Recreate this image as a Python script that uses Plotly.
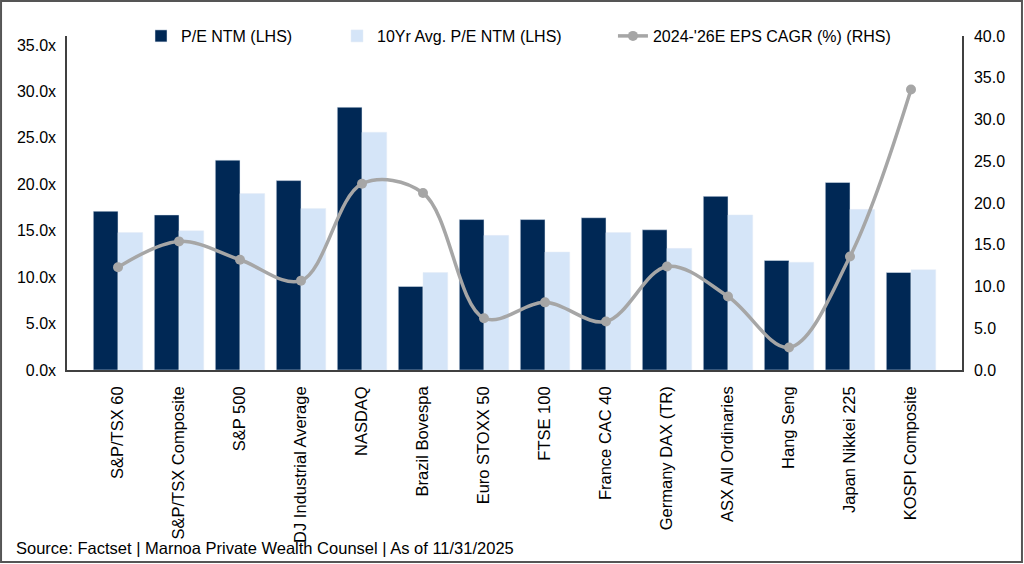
import plotly.graph_objects as go

indices = ['S&P/TSX 60', 'S&P/TSX Composite', 'S&P 500', 'DJ Industrial Average', 'NASDAQ',
           'Brazil Bovespa', 'Euro STOXX 50', 'FTSE 100', 'France CAC 40', 'Germany DAX (TR)',
           'ASX All Ordinaries', 'Hang Seng', 'Japan Nikkei 225', 'KOSPI Composite']
pe_ntm = [17.1, 16.7, 22.6, 20.4, 28.3, 9.0, 16.2, 16.2, 16.4, 15.1, 18.7, 11.8, 20.2, 10.5]
pe_10yr_avg = [14.8, 15.0, 19.0, 17.4, 25.6, 10.5, 14.5, 12.7, 14.8, 13.1, 16.7, 11.6, 17.3, 10.8]
eps_cagr = [12.3, 15.4, 13.2, 10.7, 22.3, 21.2, 6.2, 8.1, 5.8, 12.4, 8.8, 2.7, 13.6, 33.6]

left_ticks = [0, 5, 10, 15, 20, 25, 30, 35]
right_ticks = [0, 5, 10, 15, 20, 25, 30, 35, 40]

navy = '#002855'
light = '#D5E5F8'
grey = '#A6A6A6'
font = 'Liberation Sans, Arial, sans-serif'

fig = go.Figure()
fig.add_trace(go.Bar(x=indices, y=pe_ntm, name='P/E NTM (LHS)', marker_color=navy,
                     legend='legend'))
fig.add_trace(go.Bar(x=indices, y=pe_10yr_avg, name='10Yr Avg. P/E NTM (LHS)',
                     marker_color=light, legend='legend2'))
fig.add_trace(go.Scatter(
    x=indices, y=eps_cagr, name="2024-'26E EPS CAGR (%) (RHS)", yaxis='y2', legend='legend3',
    mode='lines+markers', line=dict(color=grey, width=3.5, shape='spline', smoothing=1.0),
    marker=dict(color=grey, size=10)
))

# one legend per entry so each can sit where the original has it
leg = dict(orientation='h', xanchor='left', y=1.0, yanchor='middle',
           font=dict(size=16), bgcolor='rgba(0,0,0,0)')

fig.update_layout(
    width=1024, height=564,
    margin=dict(l=67, r=62, t=36, b=194),
    plot_bgcolor='white', paper_bgcolor='white',
    font=dict(family=font, size=16, color='#000000'),
    barmode='group', bargap=0.19, bargroupgap=0,
    showlegend=True,
    legend=dict(leg, x=0.0827),
    legend2=dict(leg, x=0.3017),
    legend3=dict(leg, x=0.610),
    xaxis=dict(tickangle=-90, showline=True, linecolor='#404040', linewidth=1.5,
               showgrid=False, ticks='', tickfont=dict(size=16.5), ticklabelstandoff=8),
    yaxis=dict(range=[0, 35.97], tickvals=left_ticks,
               ticktext=[f'{v:.1f}x' for v in left_ticks],
               showline=True, linecolor='#404040', linewidth=1.5, showgrid=False,
               zeroline=False, ticks='', tickfont=dict(size=16), ticklabelstandoff=6),
    yaxis2=dict(range=[0, 40], tickvals=right_ticks,
                ticktext=[f'{v:.1f}' for v in right_ticks],
                overlaying='y', side='right', showline=True, linecolor='#404040',
                linewidth=1.5, showgrid=False, zeroline=False, ticks='',
                tickfont=dict(size=16), ticklabelstandoff=7),
    annotations=[dict(text='Source: Factset | Marnoa Private Wealth Counsel | As of 11/31/2025',
                      xref='paper', yref='paper', x=-0.059, y=-0.533,
                      xanchor='left', yanchor='middle', showarrow=False,
                      font=dict(size=16.5, color='#000000'))],
    shapes=[dict(type='rect', xref='paper', yref='paper',
                 x0=-0.0737, x1=1.067, y0=-0.575, y1=1.105,
                 line=dict(color='#555555', width=2), fillcolor='rgba(0,0,0,0)')]
)

fig.write_html('out.html', config={'displayModeBar': False},
               post_script="document.body.style.margin='0';")
